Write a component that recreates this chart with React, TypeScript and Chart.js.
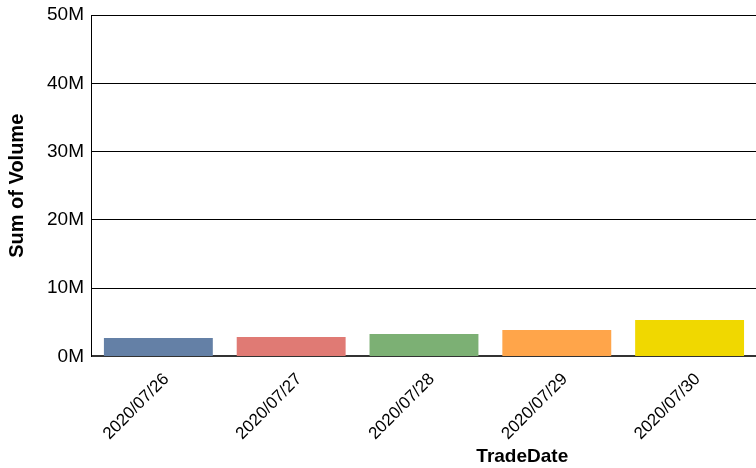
import React, { useEffect, useRef } from "react";
import { Chart, registerables } from "chart.js";

Chart.register(...registerables);

const categories = ["2020/07/26", "2020/07/27", "2020/07/28", "2020/07/29", "2020/07/30"];
const volumes = [2700000, 2850000, 3300000, 3870000, 5330000];
const barColors = ["#6480A6", "#E07A74", "#7CB074", "#FFA54A", "#F0D800"];
const yTitle = "Sum of Volume";
const xTitle = "TradeDate";

const FONT = "'Liberation Sans', Arial, sans-serif";

const xTitlePlugin = {
  id: "xTitlePlugin",
  afterDraw(chart: any) {
    const { ctx, chartArea } = chart;
    ctx.save();
    ctx.font = `bold 19px ${FONT}`;
    ctx.fillStyle = "#000";
    ctx.textAlign = "center";
    ctx.textBaseline = "alphabetic";
    const x = chartArea.left + (chartArea.right - chartArea.left) * 0.648;
    ctx.fillText(xTitle, x, chart.height - 6);
    ctx.restore();
  },
};

export default function App() {
  const ref = useRef<HTMLCanvasElement | null>(null);
  useEffect(() => {
    if (!ref.current) return;
    const chart = new Chart(ref.current, {
      type: "bar",
      data: {
        labels: categories,
        datasets: [
          {
            data: volumes,
            backgroundColor: barColors,
            borderWidth: 0,
            barPercentage: 0.82,
            categoryPercentage: 1,
          },
        ],
      },
      options: {
        animation: false,
        responsive: false,
        maintainAspectRatio: false,
        layout: { padding: { top: 6, right: 0, left: 5, bottom: 11 } },
        plugins: { legend: { display: false }, tooltip: { enabled: false } },
        scales: {
          x: {
            grid: { display: false, drawTicks: false },
            border: { display: true, color: "#333", width: 2 },
            ticks: {
              color: "#000",
              font: { family: FONT, size: 17 },
              maxRotation: 45,
              minRotation: 45,
              padding: 13,
              labelOffset: 8,
            },
          },
          y: {
            min: 0,
            max: 50000000,
            grid: { color: "#000", lineWidth: 1, drawTicks: false },
            border: { display: true, color: "#000", width: 1 },
            ticks: {
              stepSize: 10000000,
              color: "#000",
              padding: 8,
              font: { family: FONT, size: 19, lineHeight: 0.75 },
              callback: (v: any) => `${Number(v) / 1000000}M`,
            },
            title: {
              display: true,
              text: yTitle,
              color: "#000",
              font: { family: FONT, size: 20, weight: "bold" },
              padding: { top: 0, bottom: 10 },
            },
          },
        },
      },
      plugins: [xTitlePlugin],
    });
    return () => chart.destroy();
  }, []);
  return (
    <div style={{ position: "fixed", left: 0, top: 0, width: 756, height: 468, background: "#fff" }}>
      <canvas ref={ref} width={756} height={468} style={{ width: 756, height: 468 }} />
    </div>
  );
}
